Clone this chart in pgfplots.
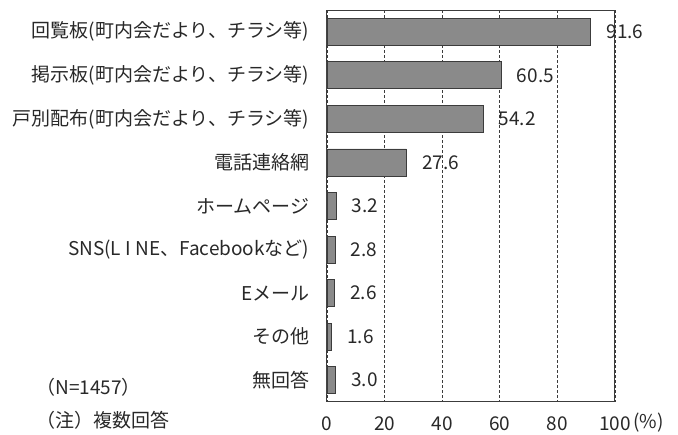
\documentclass[border=0pt]{standalone}
\usepackage{pgfplots}
\pgfplotsset{compat=1.18}
\usepackage{fontspec}
\setmainfont{Noto Sans CJK JP}
\definecolor{barfill}{RGB}{138,138,138}
\definecolor{edge}{RGB}{60,60,60}
\definecolor{txt}{RGB}{40,40,40}
\begin{document}
\fontsize{19}{22}\selectfont
\begin{tikzpicture}[x=1pt,y=1pt]
\path[use as bounding box] (0,0) rectangle (678,435);
\begin{axis}[
  at={(327pt,33pt)}, anchor=south west,
  scale only axis, width=288pt, height=392pt,
  xmin=0, xmax=100, ymin=-0.5, ymax=8.5,
  y dir=reverse,
  xtick={0,20,...,100},
  ytick={0,...,8},
  yticklabels={回覧板(町内会だより、チラシ等),掲示板(町内会だより、チラシ等),戸別配布(町内会だより、チラシ等),電話連絡網,ホームページ,SNS(L I NE、Facebookなど),Eメール,その他,無回答},
  xmajorgrids,
  major grid style={densely dashed, edge, line width=0.8pt},
  tick style={draw=none},
  axis line style={edge, line width=1pt},
  /pgf/number format/assume math mode=true,
  ticklabel style={font=\fontsize{19}{22}\selectfont, text=txt},
  yticklabel style={xshift=-7pt},
  xticklabel style={yshift=-8pt},
  xbar, bar width=27pt,
  nodes near coords,
  nodes near coords align={horizontal},
  every node near coord/.append style={anchor=west, xshift=9pt, font=\fontsize{19}{22}\selectfont, text=txt,
    /pgf/number format/.cd, fixed, fixed zerofill, precision=1, assume math mode=true},
]
\addplot[fill=barfill, draw=edge, line width=0.8pt] coordinates {(91.6,0) (60.5,1) (54.2,2) (27.6,3) (3.2,4) (2.8,5) (2.6,6) (1.6,7) (3.0,8)};
\end{axis}
\node[anchor=west, text=txt] at (30,48) {（N=1457）};
\node[anchor=west, text=txt] at (30,15) {（注）複数回答};
\node[anchor=west, inner sep=0pt, text=txt] at (633,12) {(\%)};
\end{tikzpicture}
\end{document}
